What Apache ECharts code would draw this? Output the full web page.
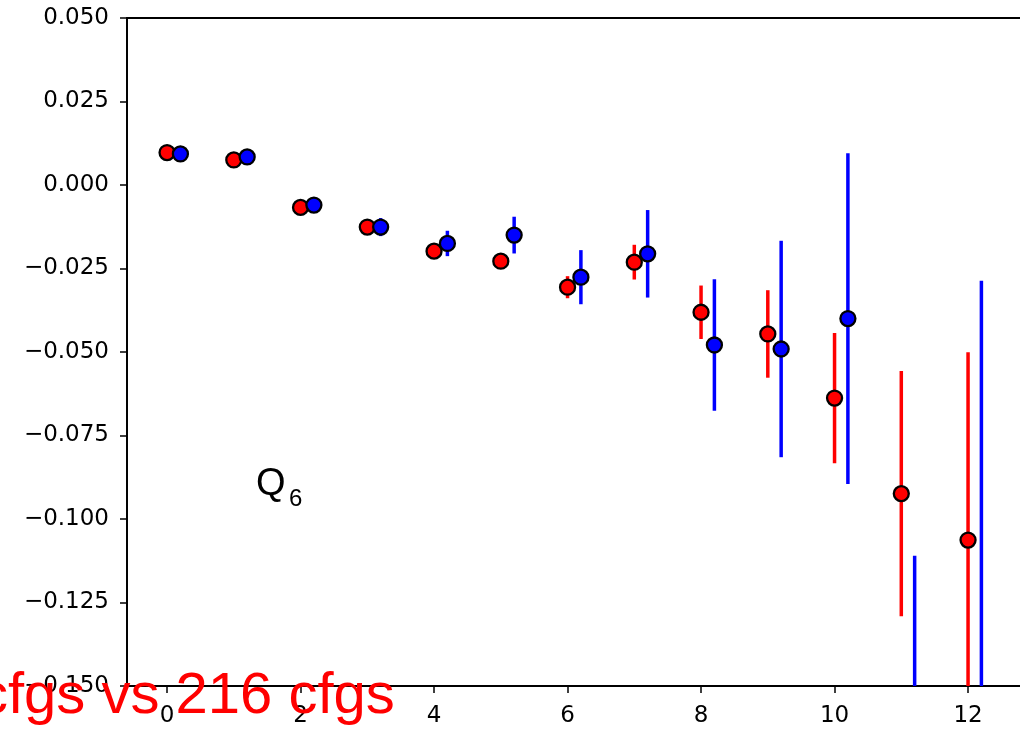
<!DOCTYPE html>
<html>
<head>
<meta charset="utf-8">
<script src="https://cdn.jsdelivr.net/npm/echarts@6/dist/echarts.min.js"></script>
<style>
html,body{margin:0;padding:0;background:#fff;}
#chart{width:1020px;height:730px;}
</style>
</head>
<body>
<div id="chart"></div>
<script>
// ---- data ----
var xValues = [0, 1, 2, 3, 4, 5, 6, 7, 8, 9, 10, 11, 12];
var blueOffset = 0.2;
var redY   = [0.0097, 0.0075, -0.0067, -0.0126, -0.0198, -0.0228, -0.0306, -0.0231, -0.0381, -0.0446, -0.0638, -0.0924, -0.1063];
var redErr = [0.0010, 0.0010, 0.0012, 0.0015, 0.0020, 0.0020, 0.0033, 0.0052, 0.0080, 0.0131, 0.0195, 0.0367, 0.0562];
var blueY   = [0.0093, 0.0084, -0.0060, -0.0126, -0.0175, -0.0150, -0.0276, -0.0206, -0.0479, -0.0491, -0.0400, -0.1650, -0.1600];
var blueErr = [0.0010, 0.0010, 0.0012, 0.0027, 0.0038, 0.0055, 0.0081, 0.0131, 0.0197, 0.0324, 0.0495, 0.0540, 0.1313];
var xTickLabels = [0, 2, 4, 6, 8, 10, 12];
var annotationLabel = 'Q';
var annotationSub = '6';
var titleText = 'cfgs vs 216 cfgs';

// ---- build ----
var RED = '#ff0000', BLUE = '#0000ff';
function pts(xs, ys, off) { return xs.map(function (x, i) { return [x + off, ys[i]]; }); }
function bars(xs, ys, es, off) { return xs.map(function (x, i) { return [x + off, ys[i] - es[i], ys[i] + es[i]]; }); }

function errRender(color) {
  return function (params, api) {
    var p1 = api.coord([api.value(0), api.value(1)]);
    var p2 = api.coord([api.value(0), api.value(2)]);
    return {
      type: 'line',
      shape: { x1: p1[0], y1: p1[1], x2: p2[0], y2: p2[1] },
      style: { stroke: color, lineWidth: 3.5 }
    };
  };
}

var chart = echarts.init(document.getElementById('chart'), null, { renderer: 'canvas' });
var axisFont = { fontFamily: 'DejaVu Sans', fontSize: 23, color: '#000' };

var option = {
  animation: false,
  backgroundColor: '#fff',
  grid: {
    left: 127, top: 18, width: 934.5, bottom: 44,
    outerBoundsMode: 'none', containLabel: false,
    show: true, borderColor: '#000', borderWidth: 1.8, backgroundColor: 'transparent'
  },
  xAxis: {
    type: 'value', min: -0.6, max: 13.4,
    splitLine: { show: false },
    axisLine: { onZero: false, lineStyle: { color: '#000', width: 1.8 } },
    axisTick: { inside: false, length: 7, lineStyle: { color: '#000', width: 1.5 }, customValues: xTickLabels },
    axisLabel: Object.assign({ margin: 19, customValues: xTickLabels, formatter: function (v) { return String(v); } }, axisFont)
  },
  yAxis: {
    type: 'value', min: -0.15, max: 0.05, interval: 0.025,
    splitLine: { show: false },
    axisLine: { onZero: false, lineStyle: { color: '#000', width: 1.8 } },
    axisTick: { inside: false, length: 7, lineStyle: { color: '#000', width: 1.5 } },
    axisLabel: Object.assign({
      margin: 18,
      formatter: function (v) {
        if (Math.abs(v) < 1e-9) return '0.000';
        var s = Math.abs(v).toFixed(3);
        return v < 0 ? '\u2212' + s : s;
      }
    }, axisFont)
  },
  series: [
    { type: 'custom', clip: true, renderItem: errRender(RED), data: bars(xValues, redY, redErr, 0), z: 2 },
    { type: 'scatter', clip: true, data: pts(xValues, redY, 0), symbolSize: 15,
      itemStyle: { color: RED, borderColor: '#000', borderWidth: 2.3, opacity: 1 }, z: 3 },
    { type: 'custom', clip: true, renderItem: errRender(BLUE), data: bars(xValues, blueY, blueErr, blueOffset), z: 4 },
    { type: 'scatter', clip: true, data: pts(xValues, blueY, blueOffset), symbolSize: 15,
      itemStyle: { color: BLUE, borderColor: '#000', borderWidth: 2.3, opacity: 1 }, z: 5 }
  ],
  graphic: [
    { type: 'text', z: 10, style: { x: 256, y: 485, text: annotationLabel, font: '38px "Liberation Sans"', fill: '#000', textAlign: 'left', textVerticalAlign: 'middle' } },
    { type: 'text', z: 10, style: { x: 289, y: 499, text: annotationSub, font: '24px "Liberation Sans"', fill: '#000', textAlign: 'left', textVerticalAlign: 'middle' } },
    { type: 'text', z: 20, style: { x: -21, y: 697, text: titleText, font: '58px "Liberation Sans"', fill: RED, textAlign: 'left', textVerticalAlign: 'middle' } }
  ]
};
chart.setOption(option);
</script>
</body>
</html>
